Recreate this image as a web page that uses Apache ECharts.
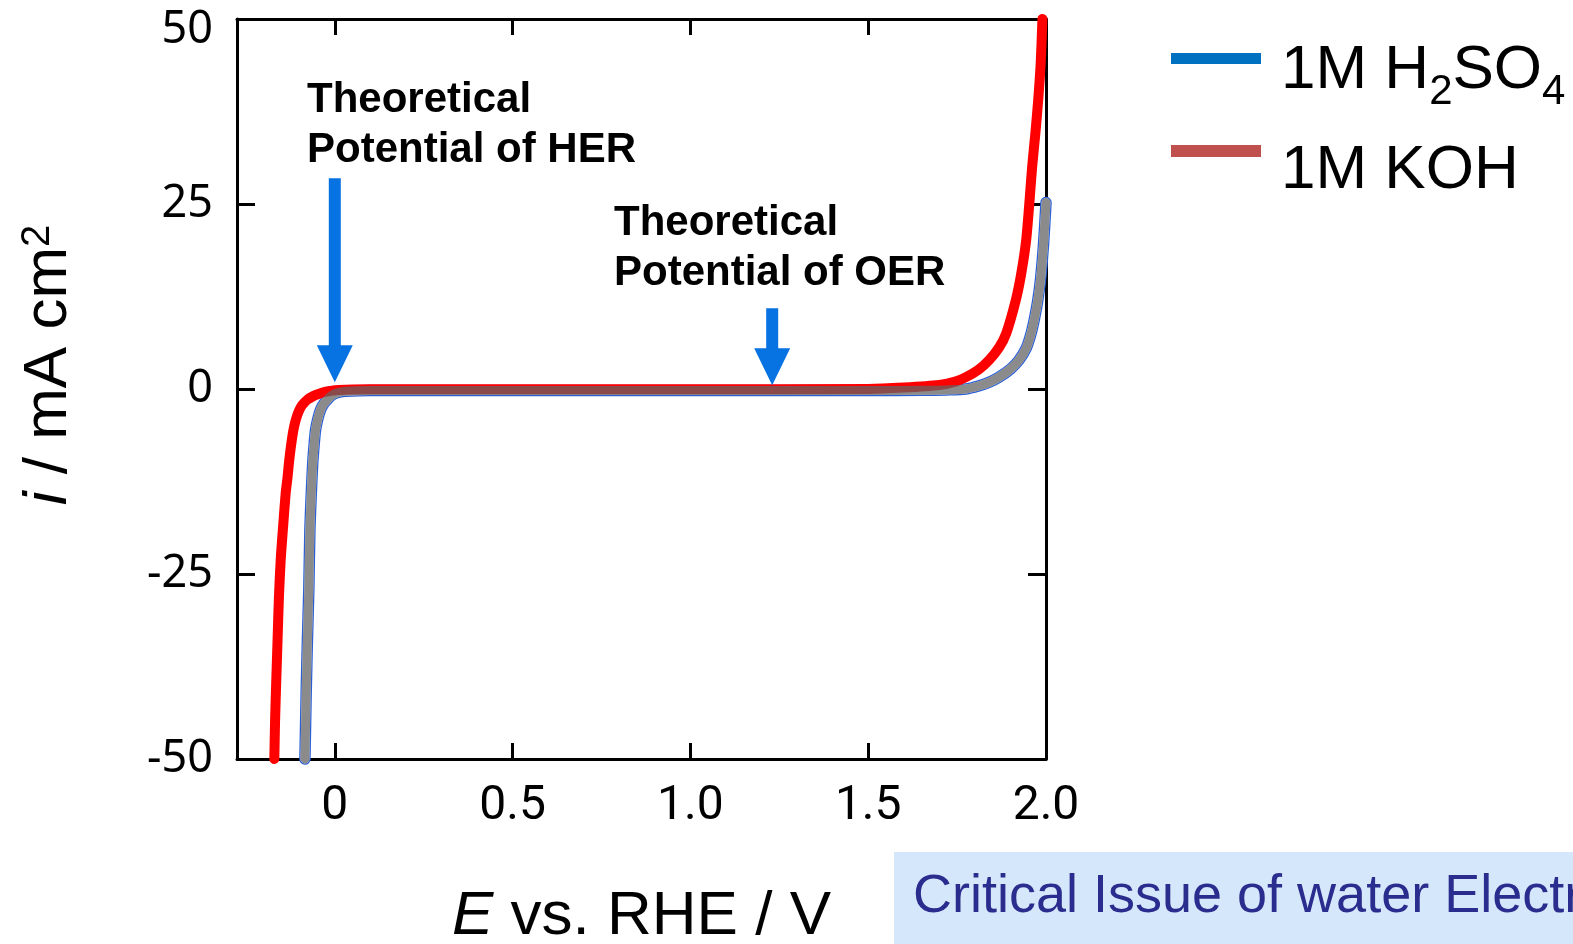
<!DOCTYPE html>
<html><head><meta charset="utf-8">
<script src="https://cdn.jsdelivr.net/npm/echarts@6/dist/echarts.min.js"></script>
<style>html,body{margin:0;padding:0;background:#fff;overflow:hidden}#c{width:1573px;height:944px}</style>
</head><body><div id="c"></div>
<script>
// ---- data ----
const xTickValues = [0, 0.5, 1.0, 1.5, 2.0];
const xTopTickValues = [0, 0.5, 1.0, 1.5];
const yTickValues = [-50, -25, 0, 25, 50];

const eH2SO4 = [-0.084, -0.082, -0.080, -0.077, -0.073, -0.070, -0.066, -0.062, -0.058, -0.054, -0.047, -0.040, -0.031, -0.022, -0.012, -0.004, 0.010, 0.030, 0.10, 0.50, 1.00, 1.50, 1.65, 1.72, 1.775, 1.81, 1.84, 1.868, 1.90, 1.924, 1.945, 1.958, 1.968, 1.977, 1.985, 1.993, 2.0];
const iH2SO4 = [-50, -45, -40, -34, -27, -19, -14, -10, -7.5, -5.5, -3.9, -2.8, -2.0, -1.5, -1.0, -0.7, -0.45, -0.3, -0.2, -0.2, -0.2, -0.2, -0.18, -0.12, 0.0, 0.4, 0.9, 1.6, 2.7, 3.9, 5.6, 7.5, 9.6, 12, 15, 19.5, 25.2];

const eKOH = [-0.170, -0.168, -0.165, -0.161, -0.157, -0.152, -0.146, -0.138, -0.133, -0.129, -0.124, -0.119, -0.114, -0.108, -0.102, -0.095, -0.087, -0.076, -0.065, -0.053, -0.042, -0.028, -0.014, 0.01, 0.10, 0.50, 1.00, 1.50, 1.60, 1.70, 1.745, 1.775, 1.81, 1.84, 1.868, 1.888, 1.915, 1.93, 1.944, 1.953, 1.961, 1.970, 1.978, 1.985, 1.990];
const iKOH = [-50, -45, -40, -34, -28, -23, -19, -14, -12, -10, -8, -6.3, -5.0, -3.9, -3.1, -2.4, -1.9, -1.4, -1.08, -0.8, -0.6, -0.4, -0.27, -0.12, -0.05, -0.05, -0.05, 0.0, 0.2, 0.55, 1.0, 1.6, 2.6, 3.9, 5.6, 7.5, 12, 15.5, 20, 25, 30, 34.5, 39, 44, 50];

const arrowE = [0, 1.23];      // theoretical potentials (V)
const arrowTipI = [0.9, 0.5];  // where the arrow tips sit

const pairs = (xs, ys) => xs.map((x, k) => [x, ys[k]]);
const FAM = '"Liberation Sans", Arial, sans-serif';

// text measuring for the legend subscripts
const mctx = document.createElement('canvas').getContext('2d');
const tw = (t, size) => { mctx.font = size + 'px ' + FAM; return mctx.measureText(t).width; };

const chart = echarts.init(document.getElementById('c'), null, {renderer: 'canvas'});

const axisLineStyle = {show: true, onZero: false, lineStyle: {color: '#000', width: 3}};
const tickStyle = (len) => ({show: true, inside: true, length: len, lineStyle: {color: '#000', width: 3}});

// legend pieces (main text 62px, subscripts 42px dropped below the baseline)
const legX = 1281, base1 = 92, base2 = 192, MAIN = 62, SUB = 42;
const legendParts = [];
function addText(str, x, baseline, size) {
  legendParts.push({type: 'text', x: x, y: baseline - 0.3465 * size, style: {
    text: str, fontSize: size, fontFamily: FAM, fill: '#000', verticalAlign: 'middle', align: 'left'
  }});
  return x + tw(str, size);
}
let cx = legX;
cx = addText('1M H', cx, base1, MAIN);
cx = addText('2', cx, base1 + 15, SUB);
cx = addText('SO', cx, base1, MAIN);
cx = addText('4', cx, base1 + 15, SUB);
addText('1M KOH', legX, base2, MAIN);

const option = {
  animation: false,
  backgroundColor: '#fff',
  grid: {left: 237, right: 527, top: 19, bottom: 185, containLabel: false, outerBoundsMode: 'none'},
  xAxis: [
    {
      type: 'value', position: 'bottom', min: -0.275, max: 2.0,
      axisLine: axisLineStyle,
      axisTick: Object.assign(tickStyle(16), {customValues: xTickValues}),
      axisLabel: {
        show: true, customValues: xTickValues, margin: 24, color: '#000',
        fontFamily: 'Roboto', fontSize: 48,
        formatter: v => (v === 0 ? '0' : v.toFixed(1))
      },
      splitLine: {show: false},
      name: '{it|E}{n| vs. RHE / V}', nameLocation: 'middle', nameGap: 127,
      nameTextStyle: {
        color: '#000', fontFamily: FAM, fontSize: 62,
        rich: {
          it: {fontStyle: 'italic', fontFamily: FAM, fontSize: 62, color: '#000', lineHeight: 62},
          n: {fontFamily: FAM, fontSize: 62, color: '#000', lineHeight: 62}
        }
      }
    },
    {
      type: 'value', position: 'top', min: -0.275, max: 2.0,
      axisLine: axisLineStyle,
      axisTick: Object.assign(tickStyle(16), {customValues: xTopTickValues}),
      axisLabel: {show: false},
      splitLine: {show: false}
    }
  ],
  yAxis: [
    {
      type: 'value', position: 'left', min: -50, max: 50, interval: 25,
      axisLine: axisLineStyle,
      axisTick: tickStyle(18),
      axisLabel: {
        show: true, margin: 24, color: '#000', fontFamily: '"Noto Sans"', fontSize: 45,
        formatter: v => (v === 50 ? '{t|50}' : String(v)),
        rich: {t: {fontFamily: '"Noto Sans"', fontSize: 45, color: '#000', padding: [22, 0, 0, 0]}}
      },
      splitLine: {show: false},
      name: '{it|i}{n| / mA cm}{sup|2}', nameLocation: 'middle', nameGap: 157,
      nameTextStyle: {
        color: '#000', fontFamily: FAM, fontSize: 62, padding: [0, 0, 0, 48],
        rich: {
          it: {fontStyle: 'italic', fontFamily: FAM, fontSize: 62, color: '#000', lineHeight: 62},
          n: {fontFamily: FAM, fontSize: 62, color: '#000', lineHeight: 62},
          sup: {fontFamily: FAM, fontSize: 40, color: '#000', lineHeight: 30, verticalAlign: 'top'}
        }
      }
    },
    {
      type: 'value', position: 'right', min: -50, max: 50, interval: 25,
      axisLine: axisLineStyle,
      axisTick: tickStyle(18),
      axisLabel: {show: false},
      splitLine: {show: false}
    }
  ],
  series: [
    { // blue outline of the H2SO4 curve
      name: 'H2SO4 outline', type: 'line', data: pairs(eH2SO4, iH2SO4), symbol: 'none',
      smooth: 0.25, clip: false, silent: true,
      lineStyle: {color: '#2a5fd6', width: 11.5, cap: 'round', join: 'round'}
    },
    { // white core of the H2SO4 curve
      name: 'H2SO4 core', type: 'line', data: pairs(eH2SO4, iH2SO4), symbol: 'none',
      smooth: 0.25, clip: false, silent: true,
      lineStyle: {color: '#ffffff', width: 9, cap: 'round', join: 'round'}
    },
    {
      name: '1M KOH', type: 'line', data: pairs(eKOH, iKOH), symbol: 'none',
      smooth: 0.25, clip: false,
      lineStyle: {color: '#ff0000', width: 10, cap: 'round', join: 'round'}
    },
    {
      name: '1M H2SO4', type: 'line', data: pairs(eH2SO4, iH2SO4), symbol: 'none',
      smooth: 0.25, clip: false,
      lineStyle: {color: '#636363', opacity: 0.745, width: 9, cap: 'round', join: 'round'},
      markPoint: {
        silent: true,
        label: {show: false},
        itemStyle: {color: '#0773e3'},
        data: [
          {coord: [arrowE[0], arrowTipI[0]], symbol: 'path://M12,0L24,0L24,167L36,167L18,204L0,167L12,167Z',
           symbolSize: [36, 204], symbolOffset: [0, '-50%'], symbolKeepAspect: false},
          {coord: [arrowE[1], arrowTipI[1]], symbol: 'path://M12,0L24,0L24,40L36,40L18,77L0,40L12,40Z',
           symbolSize: [36, 77], symbolOffset: [0, '-50%'], symbolKeepAspect: false}
        ]
      }
    }
  ],
  graphic: [
    // legend
    {type: 'rect', shape: {x: 1171, y: 53, width: 90, height: 11}, style: {fill: '#0070c0'}},
    {type: 'rect', shape: {x: 1171, y: 145, width: 90, height: 12}, style: {fill: '#c0504d'}},
    ...legendParts,
    // annotations
    {type: 'text', x: 307, y: 75.5, style: {
      text: 'Theoretical\nPotential of HER', fontSize: 42, fontWeight: 'bold', fontFamily: FAM, lineHeight: 50,
      fill: '#000', verticalAlign: 'top'
    }},
    {type: 'text', x: 614, y: 198.5, style: {
      text: 'Theoretical\nPotential of OER', fontSize: 42, fontWeight: 'bold', fontFamily: FAM, lineHeight: 50,
      fill: '#000', verticalAlign: 'top'
    }},
    // bottom-right callout box
    {type: 'rect', shape: {x: 894, y: 852, width: 700, height: 100}, style: {fill: '#d5e8fb'}},
    {type: 'text', x: 913, y: 916 - 0.3465 * 54, style: {
      text: 'Critical Issue of water Electrolysis', fontSize: 54, fontFamily: FAM,
      fill: '#2b2d8e', verticalAlign: 'middle'
    }}
  ]
};
chart.setOption(option);
</script>
</body></html>
